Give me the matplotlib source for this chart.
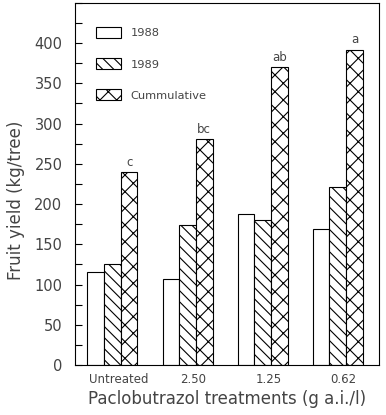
import numpy as np
import matplotlib
matplotlib.use("Agg")
from matplotlib import pyplot as plt

# data
treatments = ["Untreated", "2.50", "1.25", "0.62"]
yield_1988 = [115, 107, 188, 169]
yield_1989 = [125, 174, 180, 221]
yield_cum = [240, 281, 370, 392]
letters = ["c", "bc", "ab", "a"]

txt = '#444444'
plt.rcParams['hatch.linewidth'] = 0.8

fig = plt.figure(figsize=(3.86, 4.15), dpi=100)
ax = fig.add_axes([0.194, 0.1205, 0.788, 0.8725])

x = np.arange(len(treatments))
w = 0.222
ax.bar(x - w, yield_1988, w, facecolor='white', edgecolor='black', lw=0.8, label='1988')
ax.bar(x, yield_1989, w, facecolor='white', edgecolor='black', lw=0.8, hatch='\\\\\\', label='1989')
ax.bar(x + w, yield_cum, w, facecolor='white', edgecolor='black', lw=0.8, hatch='xx', label='Cummulative')

# significance letters over the cumulative bars
for xi, v, s in zip(x, yield_cum, letters):
    ax.text(xi + w, v + 4, s, ha='center', va='bottom', fontsize=8.5, color=txt)

ax.set_xlim(-0.5, 3.55)
ax.set_ylim(0, 450)
ax.set_yticks(np.arange(0, 401, 50))
ax.set_yticks(np.arange(0, 451, 25), minor=True)
ax.tick_params(axis='y', which='both', direction='in', length=5, width=0.8, pad=9,
               labelsize=10.5, labelcolor=txt)
ax.tick_params(axis='x', length=0, pad=6, labelsize=8.5, labelcolor=txt)
ax.set_xticks(x + 0.08)
ax.set_xticklabels(treatments)
for sp in ax.spines.values():
    sp.set_linewidth(0.8)

ax.set_ylabel("Fruit yield (kg/tree)", fontsize=12, color=txt)
ax.yaxis.set_label_coords(-0.165, 0.456)
ax.set_xlabel("Paclobutrazol treatments (g a.i./l)", fontsize=12, color=txt, labelpad=3)

ax.legend(loc='upper left', bbox_to_anchor=(0.036, 0.961), frameon=False, fontsize=8.2,
          handlelength=2.15, handleheight=1.05, labelspacing=1.75, handletextpad=0.85,
          labelcolor=txt)

fig.savefig("out.png", dpi=100)
